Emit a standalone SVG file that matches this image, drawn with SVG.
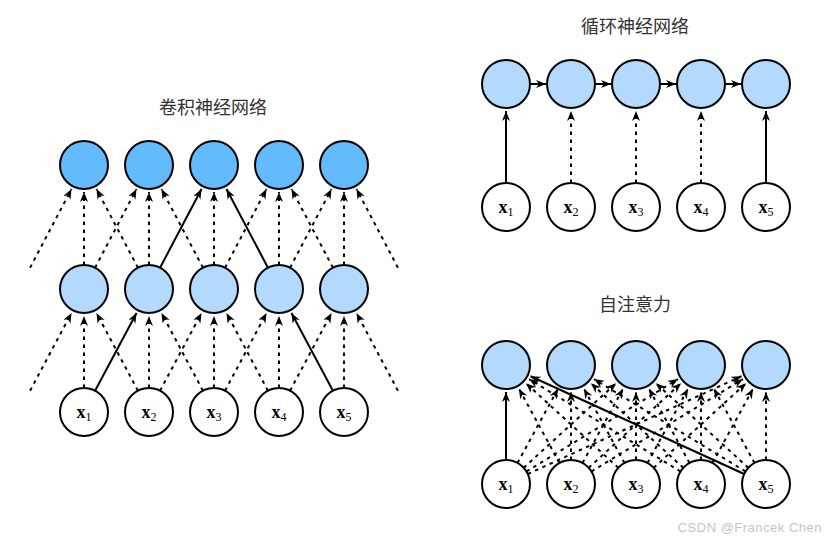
<svg xmlns="http://www.w3.org/2000/svg" width="840" height="543" viewBox="0 0 840 543">
<style>
.n circle{stroke:#000;stroke-width:2}
.d{fill:#63BBFD}
.l{fill:#B3D9FD}
.w{fill:#fff}
.c line{stroke:#000;stroke-width:2;marker-end:url(#ah)}
.c .ds{stroke-dasharray:3.5 4.5}
.t{font-family:"Noto Sans CJK SC","Noto Sans",sans-serif;font-size:18px;fill:#333;text-anchor:middle}
.x{font-family:"Liberation Serif",serif;font-size:18px;text-anchor:middle}
.x .b{font-weight:bold}
.x .s{font-size:12px}
.wm{font-family:"Liberation Sans",sans-serif;font-size:13px;fill:#c4c4c4;text-anchor:end;letter-spacing:0.5px}
</style>
<defs>
<marker id="ah" markerUnits="userSpaceOnUse" markerWidth="11" markerHeight="9" refX="10" refY="4" orient="auto">
<path d="M0,0 L10,4 L0,8 L3,4 z" fill="#000"/>
</marker>
</defs>

<text class="t" x="213" y="114">卷积神经网络</text>
<text class="t" x="635" y="33">循环神经网络</text>
<text class="t" x="635" y="311">自注意力</text>

<g class="c" id="connectors">
<!-- CNN middle -> top -->
<line class="ds" x1="84" y1="265" x2="84" y2="192"/>
<line class="ds" x1="149" y1="265" x2="149" y2="192"/>
<line class="ds" x1="214" y1="265" x2="214" y2="192"/>
<line class="ds" x1="279" y1="265" x2="279" y2="192"/>
<line class="ds" x1="344" y1="265" x2="344" y2="192"/>
<line class="ds" x1="30.07" y1="267.7" x2="71.54" y2="189"/>
<line class="ds" x1="95.07" y1="267.7" x2="136.54" y2="189"/>
<line x1="160.07" y1="267.7" x2="201.54" y2="189"/>
<line class="ds" x1="225.07" y1="267.7" x2="266.54" y2="189"/>
<line class="ds" x1="290.07" y1="267.7" x2="331.54" y2="189"/>
<line class="ds" x1="137.93" y1="267.7" x2="96.46" y2="189"/>
<line class="ds" x1="202.93" y1="267.7" x2="161.46" y2="189"/>
<line x1="267.93" y1="267.7" x2="226.46" y2="189"/>
<line class="ds" x1="332.93" y1="267.7" x2="291.46" y2="189"/>
<line class="ds" x1="397.93" y1="267.7" x2="356.46" y2="189"/>
<!-- CNN bottom -> middle -->
<line class="ds" x1="84" y1="388" x2="84" y2="316"/>
<line class="ds" x1="149" y1="388" x2="149" y2="316"/>
<line class="ds" x1="214" y1="388" x2="214" y2="316"/>
<line class="ds" x1="279" y1="388" x2="279" y2="316"/>
<line class="ds" x1="344" y1="388" x2="344" y2="316"/>
<line class="ds" x1="30.07" y1="390.7" x2="71.54" y2="313"/>
<line x1="95.07" y1="390.7" x2="136.54" y2="313"/>
<line class="ds" x1="160.07" y1="390.7" x2="201.54" y2="313"/>
<line class="ds" x1="225.07" y1="390.7" x2="266.54" y2="313"/>
<line class="ds" x1="290.07" y1="390.7" x2="331.54" y2="313"/>
<line class="ds" x1="137.93" y1="390.7" x2="96.46" y2="313"/>
<line class="ds" x1="202.93" y1="390.7" x2="161.46" y2="313"/>
<line class="ds" x1="267.93" y1="390.7" x2="226.46" y2="313"/>
<line x1="332.93" y1="390.7" x2="291.46" y2="313"/>
<line class="ds" x1="397.93" y1="390.7" x2="356.46" y2="313"/>
<!-- RNN -->
<line x1="530" y1="84" x2="546" y2="84"/>
<line x1="595" y1="84" x2="611" y2="84"/>
<line x1="660" y1="84" x2="676" y2="84"/>
<line x1="725" y1="84" x2="741" y2="84"/>
<line x1="506" y1="183" x2="506" y2="111"/>
<line class="ds" x1="571" y1="183" x2="571" y2="111"/>
<line class="ds" x1="636" y1="183" x2="636" y2="111"/>
<line class="ds" x1="701" y1="183" x2="701" y2="111"/>
<line x1="766" y1="183" x2="766" y2="111"/>
<!-- Self-attention -->
<line x1="506" y1="460" x2="506" y2="392"/>
<line class="ds" x1="559.49" y1="462.94" x2="518.94" y2="388.69"/>
<line class="ds" x1="618.30" y1="467.79" x2="525.92" y2="383.23"/>
<line class="ds" x1="680.51" y1="471.50" x2="529.05" y2="379.07"/>
<line x1="744.18" y1="474.01" x2="530.55" y2="376.24"/>
<line class="ds" x1="517.51" y1="462.94" x2="558.06" y2="388.69"/>
<line class="ds" x1="571" y1="460" x2="571" y2="392"/>
<line class="ds" x1="624.49" y1="462.94" x2="583.94" y2="388.69"/>
<line class="ds" x1="683.30" y1="467.79" x2="590.92" y2="383.23"/>
<line class="ds" x1="745.51" y1="471.50" x2="594.05" y2="379.07"/>
<line class="ds" x1="523.70" y1="467.79" x2="616.08" y2="383.23"/>
<line class="ds" x1="582.51" y1="462.94" x2="623.06" y2="388.69"/>
<line class="ds" x1="636" y1="460" x2="636" y2="392"/>
<line class="ds" x1="689.49" y1="462.94" x2="648.94" y2="388.69"/>
<line class="ds" x1="748.30" y1="467.79" x2="655.92" y2="383.23"/>
<line class="ds" x1="526.49" y1="471.50" x2="677.95" y2="379.07"/>
<line class="ds" x1="588.70" y1="467.79" x2="681.08" y2="383.23"/>
<line class="ds" x1="647.51" y1="462.94" x2="688.06" y2="388.69"/>
<line class="ds" x1="701" y1="460" x2="701" y2="392"/>
<line class="ds" x1="754.49" y1="462.94" x2="713.94" y2="388.69"/>
<line class="ds" x1="527.82" y1="474.01" x2="741.45" y2="376.24"/>
<line class="ds" x1="591.49" y1="471.50" x2="742.95" y2="379.07"/>
<line class="ds" x1="653.70" y1="467.79" x2="746.08" y2="383.23"/>
<line class="ds" x1="712.51" y1="462.94" x2="753.06" y2="388.69"/>
<line class="ds" x1="766" y1="460" x2="766" y2="392"/>
</g>

<!-- CNN nodes -->
<g class="n" id="cnn-top">
<circle class="d" cx="84" cy="165" r="24"/>
<circle class="d" cx="149" cy="165" r="24"/>
<circle class="d" cx="214" cy="165" r="24"/>
<circle class="d" cx="279" cy="165" r="24"/>
<circle class="d" cx="344" cy="165" r="24"/>
</g>
<g class="n" id="cnn-mid">
<circle class="l" cx="84" cy="289" r="24"/>
<circle class="l" cx="149" cy="289" r="24"/>
<circle class="l" cx="214" cy="289" r="24"/>
<circle class="l" cx="279" cy="289" r="24"/>
<circle class="l" cx="344" cy="289" r="24"/>
</g>
<g class="n" id="cnn-x1"><circle class="w" cx="84" cy="412" r="24"/><text class="x" x="84" y="418"><tspan class="b">x</tspan><tspan class="s" dy="3">1</tspan></text></g>
<g class="n" id="cnn-x2"><circle class="w" cx="149" cy="412" r="24"/><text class="x" x="149" y="418"><tspan class="b">x</tspan><tspan class="s" dy="3">2</tspan></text></g>
<g class="n" id="cnn-x3"><circle class="w" cx="214" cy="412" r="24"/><text class="x" x="214" y="418"><tspan class="b">x</tspan><tspan class="s" dy="3">3</tspan></text></g>
<g class="n" id="cnn-x4"><circle class="w" cx="279" cy="412" r="24"/><text class="x" x="279" y="418"><tspan class="b">x</tspan><tspan class="s" dy="3">4</tspan></text></g>
<g class="n" id="cnn-x5"><circle class="w" cx="344" cy="412" r="24"/><text class="x" x="344" y="418"><tspan class="b">x</tspan><tspan class="s" dy="3">5</tspan></text></g>

<!-- RNN nodes -->
<g class="n" id="rnn-h">
<circle class="l" cx="506" cy="84" r="24"/>
<circle class="l" cx="571" cy="84" r="24"/>
<circle class="l" cx="636" cy="84" r="24"/>
<circle class="l" cx="701" cy="84" r="24"/>
<circle class="l" cx="766" cy="84" r="24"/>
</g>
<g class="n" id="rnn-x1"><circle class="w" cx="506" cy="207" r="24"/><text class="x" x="506" y="213"><tspan class="b">x</tspan><tspan class="s" dy="3">1</tspan></text></g>
<g class="n" id="rnn-x2"><circle class="w" cx="571" cy="207" r="24"/><text class="x" x="571" y="213"><tspan class="b">x</tspan><tspan class="s" dy="3">2</tspan></text></g>
<g class="n" id="rnn-x3"><circle class="w" cx="636" cy="207" r="24"/><text class="x" x="636" y="213"><tspan class="b">x</tspan><tspan class="s" dy="3">3</tspan></text></g>
<g class="n" id="rnn-x4"><circle class="w" cx="701" cy="207" r="24"/><text class="x" x="701" y="213"><tspan class="b">x</tspan><tspan class="s" dy="3">4</tspan></text></g>
<g class="n" id="rnn-x5"><circle class="w" cx="766" cy="207" r="24"/><text class="x" x="766" y="213"><tspan class="b">x</tspan><tspan class="s" dy="3">5</tspan></text></g>

<!-- Self-attention nodes -->
<g class="n" id="att-y">
<circle class="l" cx="506" cy="365" r="24"/>
<circle class="l" cx="571" cy="365" r="24"/>
<circle class="l" cx="636" cy="365" r="24"/>
<circle class="l" cx="701" cy="365" r="24"/>
<circle class="l" cx="766" cy="365" r="24"/>
</g>
<g class="n" id="att-x1"><circle class="w" cx="506" cy="484" r="24"/><text class="x" x="506" y="490"><tspan class="b">x</tspan><tspan class="s" dy="3">1</tspan></text></g>
<g class="n" id="att-x2"><circle class="w" cx="571" cy="484" r="24"/><text class="x" x="571" y="490"><tspan class="b">x</tspan><tspan class="s" dy="3">2</tspan></text></g>
<g class="n" id="att-x3"><circle class="w" cx="636" cy="484" r="24"/><text class="x" x="636" y="490"><tspan class="b">x</tspan><tspan class="s" dy="3">3</tspan></text></g>
<g class="n" id="att-x4"><circle class="w" cx="701" cy="484" r="24"/><text class="x" x="701" y="490"><tspan class="b">x</tspan><tspan class="s" dy="3">4</tspan></text></g>
<g class="n" id="att-x5"><circle class="w" cx="766" cy="484" r="24"/><text class="x" x="766" y="490"><tspan class="b">x</tspan><tspan class="s" dy="3">5</tspan></text></g>

<text class="wm" x="822" y="532">CSDN @Francek Chen</text>
</svg>
